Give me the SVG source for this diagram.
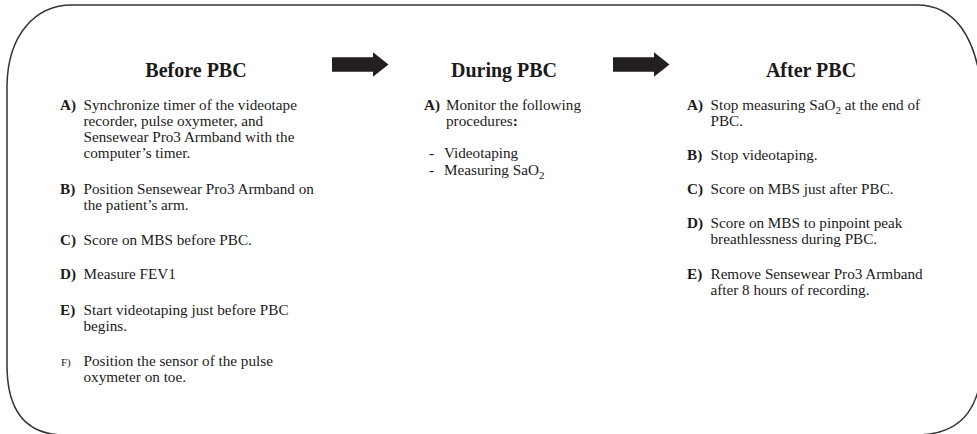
<svg xmlns="http://www.w3.org/2000/svg" xmlns:xlink="http://www.w3.org/1999/xlink" width="977" height="434" viewBox="0 0 977 434">
<style>
text{font-family:"Liberation Serif","Times New Roman",serif;fill:#1c1a1b}
.t{font-size:20px;font-weight:bold;text-anchor:middle}
.b{font-size:15.2px}
.l{font-size:15.2px;font-weight:bold}
.s{font-size:11px}
.frame{fill:none;stroke:#333;stroke-width:1.5}
.arrow{fill:#231f20}
</style>
<defs>
<path id="arr" d="M0 5 H41 V0 L56.5 12.2 L41 24.4 V19.4 H0 Z"/>
</defs>
<rect width="977" height="434" fill="#fff"/>
<g id="frame">
<path class="frame" d="M72 5 H917 C950 5 980 30 983 110 V350 C983 405 965 435 915 435 H65 C25 435 7 410 7 365 V85 C8 35 35 5 72 5 Z"/>
</g>
<g id="connectors">
<use xlink:href="#arr" class="arrow" transform="translate(332,52.3)"/>
<use xlink:href="#arr" class="arrow" transform="translate(613,52.3)"/>
</g>
<g id="before">
<text class="t" x="196" y="77">Before PBC</text>
<text class="l" x="60" y="110">A)</text>
<text class="b" x="83.5" y="110">Synchronize timer of the videotape</text>
<text class="b" x="83.5" y="126">recorder, pulse oxymeter, and</text>
<text class="b" x="83.5" y="142">Sensewear Pro3 Armband with the</text>
<text class="b" x="83.5" y="158">computer’s timer.</text>
<text class="l" x="60" y="194">B)</text>
<text class="b" x="83.5" y="194">Position Sensewear Pro3 Armband on</text>
<text class="b" x="83.5" y="210">the patient’s arm.</text>
<text class="l" x="60" y="245">C)</text>
<text class="b" x="83.5" y="245">Score on MBS before PBC.</text>
<text class="l" x="60" y="279">D)</text>
<text class="b" x="83.5" y="279">Measure FEV1</text>
<text class="l" x="60" y="315">E)</text>
<text class="b" x="83.5" y="315">Start videotaping just before PBC</text>
<text class="b" x="83.5" y="331">begins.</text>
<text class="s" x="61" y="366">F)</text>
<text class="b" x="83.5" y="366">Position the sensor of the pulse</text>
<text class="b" x="83.5" y="382">oxymeter on toe.</text>
</g>
<g id="during">
<text class="t" x="504" y="77">During PBC</text>
<text class="l" x="424" y="110">A)</text>
<text class="b" x="446" y="110">Monitor the following</text>
<text class="b" x="446" y="126">procedures<tspan font-weight="bold">:</tspan></text>
<text class="b" x="429" y="158">-</text>
<text class="b" x="444" y="158">Videotaping</text>
<text class="b" x="429" y="175">-</text>
<text class="b" x="444" y="175">Measuring SaO<tspan class="s" dy="4">2</tspan></text>
</g>
<g id="after">
<text class="t" x="811" y="77">After PBC</text>
<text class="l" x="687" y="110">A)</text>
<text class="b" x="710.5" y="110">Stop measuring SaO<tspan class="s" dy="4">2</tspan><tspan dy="-4"> at the end of</tspan></text>
<text class="b" x="710.5" y="126">PBC.</text>
<text class="l" x="687" y="160">B)</text>
<text class="b" x="710.5" y="160">Stop videotaping.</text>
<text class="l" x="687" y="194">C)</text>
<text class="b" x="710.5" y="194">Score on MBS just after PBC.</text>
<text class="l" x="687" y="228">D)</text>
<text class="b" x="710.5" y="228">Score on MBS to pinpoint peak</text>
<text class="b" x="710.5" y="244">breathlessness during PBC.</text>
<text class="l" x="687" y="279">E)</text>
<text class="b" x="710.5" y="279">Remove Sensewear Pro3 Armband</text>
<text class="b" x="710.5" y="295">after 8 hours of recording.</text>
</g>
</svg>
